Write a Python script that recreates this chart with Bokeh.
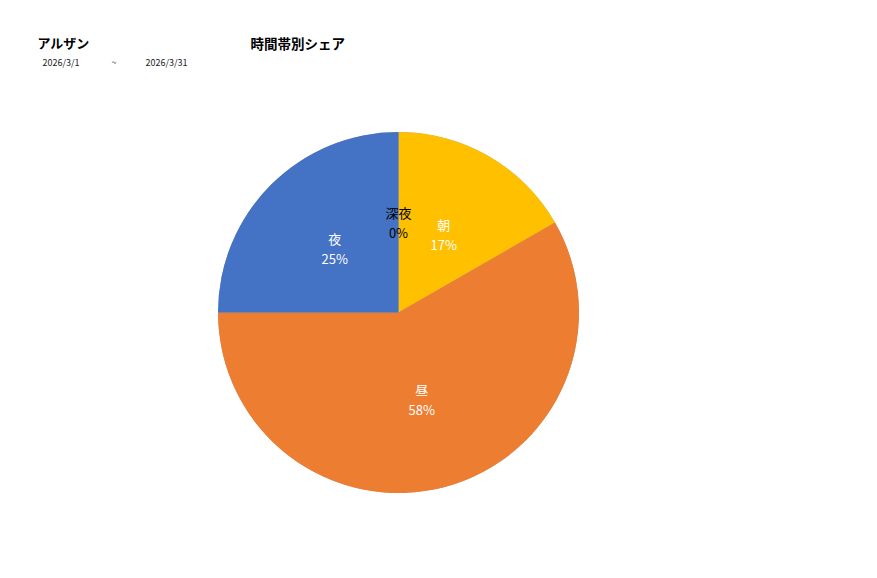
import math
from bokeh.plotting import figure
from bokeh.models import ColumnDataSource, Range1d
from bokeh.core.properties import value
from bokeh.embed import file_html
from bokeh.resources import INLINE

store_name = "アルザン"
chart_title = "時間帯別シェア"
date_from = "2026/3/1"
date_sep = "~"
date_to = "2026/3/31"

categories = ["深夜", "朝", "昼", "夜"]
shares = [0.0, 16.7, 58.3, 25.0]
colors = ["#A5A5A5", "#FFC000", "#ED7D31", "#4472C4"]
label_colors = ["#000000", "#FFFFFF", "#FFFFFF", "#FFFFFF"]

W, H = 860, 560
FONT = "Noto Sans CJK JP"

p = figure(width=W, height=H, output_backend="svg", toolbar_location=None,
           x_range=Range1d(0, W), y_range=Range1d(0, H), min_border=0)
p.axis.visible = False
p.grid.visible = False
p.outline_line_color = None
p.background_fill_color = "white"
p.border_fill_color = "white"

cx, cy, R = 398, 248, 180.5
total = sum(shares)
starts, ends, lx, ly, pct = [], [], [], [], []
cum = 0.0
for s in shares:
    a0 = math.pi / 2 - 2 * math.pi * cum / total
    cum += s
    a1 = math.pi / 2 - 2 * math.pi * cum / total
    starts.append(a0)
    ends.append(a1)
    mid = (a0 + a1) / 2
    lx.append(cx + 0.5 * R * math.cos(mid))
    ly.append(cy + 0.5 * R * math.sin(mid))
    pct.append(f"{round(s / total * 100)}%")

src = ColumnDataSource(dict(start=starts, end=ends, color=colors, cat=categories,
                            pct=pct, lx=lx, ly=[y + 10 for y in ly],
                            ly2=[y - 10 for y in ly], tc=label_colors))
p.wedge(x=cx, y=cy, radius=R, start_angle="start", end_angle="end",
        direction="clock", fill_color="color", line_color=None, source=src)
p.text(x="lx", y="ly", text="cat", text_color="tc", source=src,
       text_font=value(FONT), text_font_size="13px",
       text_align="center", text_baseline="middle")
p.text(x="lx", y="ly2", text="pct", text_color="tc", source=src,
       text_font=value(FONT), text_font_size="13px",
       text_align="center", text_baseline="middle")

p.text(x=[37], y=[H - 42], text=[store_name], text_font=value(FONT),
       text_font_size="13px", text_font_style="bold", text_color="#000000",
       text_align="left", text_baseline="middle")
p.text(x=[250], y=[H - 42], text=[chart_title], text_font=value(FONT),
       text_font_size="13.5px", text_font_style="bold", text_color="#000000",
       text_align="left", text_baseline="middle")
p.text(x=[42, 111, 145], y=[H - 62] * 3, text=[date_from, date_sep, date_to],
       text_font=value(FONT), text_font_size="9px", text_color="#222222",
       text_align="left", text_baseline="middle")

open("out.html", "w").write(file_html(p, INLINE))
